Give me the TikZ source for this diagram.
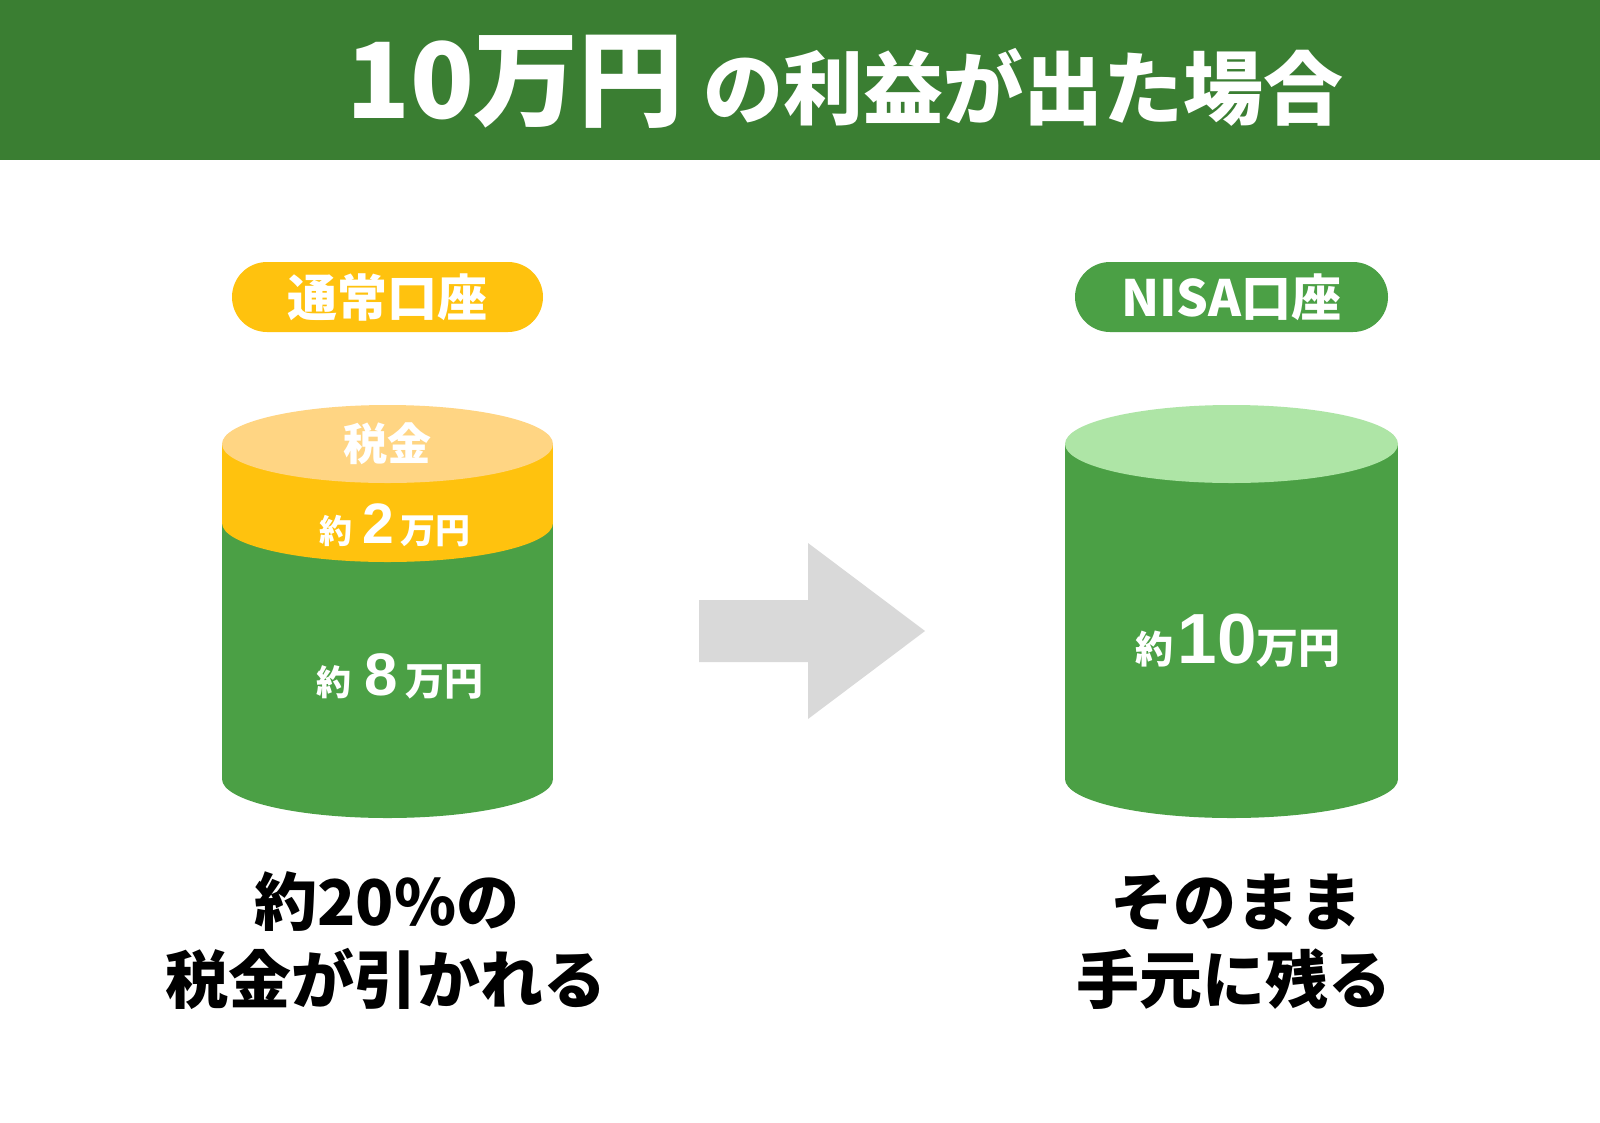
\documentclass[tikz,border=0pt]{standalone}
\usepackage{fontspec}
\setmainfont{Noto Sans CJK JP}
\newfontfamily\digitfont{Liberation Sans}
\definecolor{hdr}{HTML}{3A7E32}
\definecolor{yel}{HTML}{FFC20E}
\definecolor{yeltop}{HTML}{FFD583}
\definecolor{grn}{HTML}{4BA045}
\definecolor{grntop}{HTML}{AEE5A6}
\definecolor{arrowgray}{HTML}{D9D9D9}
\tikzset{
  lbl/.style={inner sep=0pt, text=white, font=\bfseries},
  pill/.style={inner sep=0pt, rounded corners=35pt, minimum height=70pt, text=white, font=\bfseries\fontsize{50}{60}\selectfont},
  caption/.style={inner sep=0pt, text=black, font=\bfseries\fontsize{63}{75}\selectfont, anchor=base}
}
\newcommand{\fs}[1]{\fontsize{#1}{#1}\selectfont}
\begin{document}
\begin{tikzpicture}[x=1pt,y=-1pt]
\useasboundingbox (0,0) rectangle (1600,1122);
\fill[white] (0,0) rectangle (1600,1122);
% header
\fill[hdr] (0,0) rectangle (1600,160);
\node[lbl, anchor=base] (title) at (845,118) {{\fs{105}10万円}\hspace{20pt}{\fs{80}の利益が出た場合}};
% pills
\node[pill, fill=yel, minimum width=311pt] (lpill) at (387.5,297) {通常口座};
\node[pill, fill=grn, minimum width=313pt] (rpill) at (1231.5,297) {NISA口座};
% left cylinder
\fill[grn] (222,523) rectangle (553,779);
\fill[grn] (387.5,779) ellipse [x radius=165.5pt, y radius=39pt];
\fill[yel] (222,444) rectangle (553,523);
\fill[yel] (387.5,523) ellipse [x radius=165.5pt, y radius=39pt];
\fill[yeltop] (387.5,444) ellipse [x radius=165.5pt, y radius=39pt];
\node[lbl, anchor=base, font=\bfseries\fs{44}] (tax) at (387,460) {税金};
\node[lbl, anchor=base] (two) at (395,543) {{\fs{33}約}\hspace{10pt}{\digitfont\fs{57}2}\hspace{7pt}{\fs{35}万円}};
\node[lbl, anchor=base] (eight) at (400,695) {{\fs{35}約}\hspace{13pt}{\digitfont\fs{60}8}\hspace{7pt}{\fs{39}万円}};
% right cylinder
\fill[grn] (1065,444) rectangle (1398,779);
\fill[grn] (1231.5,779) ellipse [x radius=166.5pt, y radius=39pt];
\fill[grntop] (1231.5,444) ellipse [x radius=166.5pt, y radius=39pt];
\node[lbl, anchor=base] (ten) at (1238,663) {{\fs{38}約}\hspace{4pt}{\digitfont\fs{71}10}{\fs{42}万円}};
% arrow
\fill[arrowgray] (699,600) -- (808,600) -- (808,543) -- (925,631) -- (808,719) -- (808,662) -- (699,662) -- cycle;
% captions
\node[caption] (lc1) at (387,925) {約20\%の};
\node[caption] (lc2) at (386,1003) {税金が引かれる};
\node[caption] (rc1) at (1236,925) {そのまま};
\node[caption] (rc2) at (1234,1003) {手元に残る};
\end{tikzpicture}
\end{document}
